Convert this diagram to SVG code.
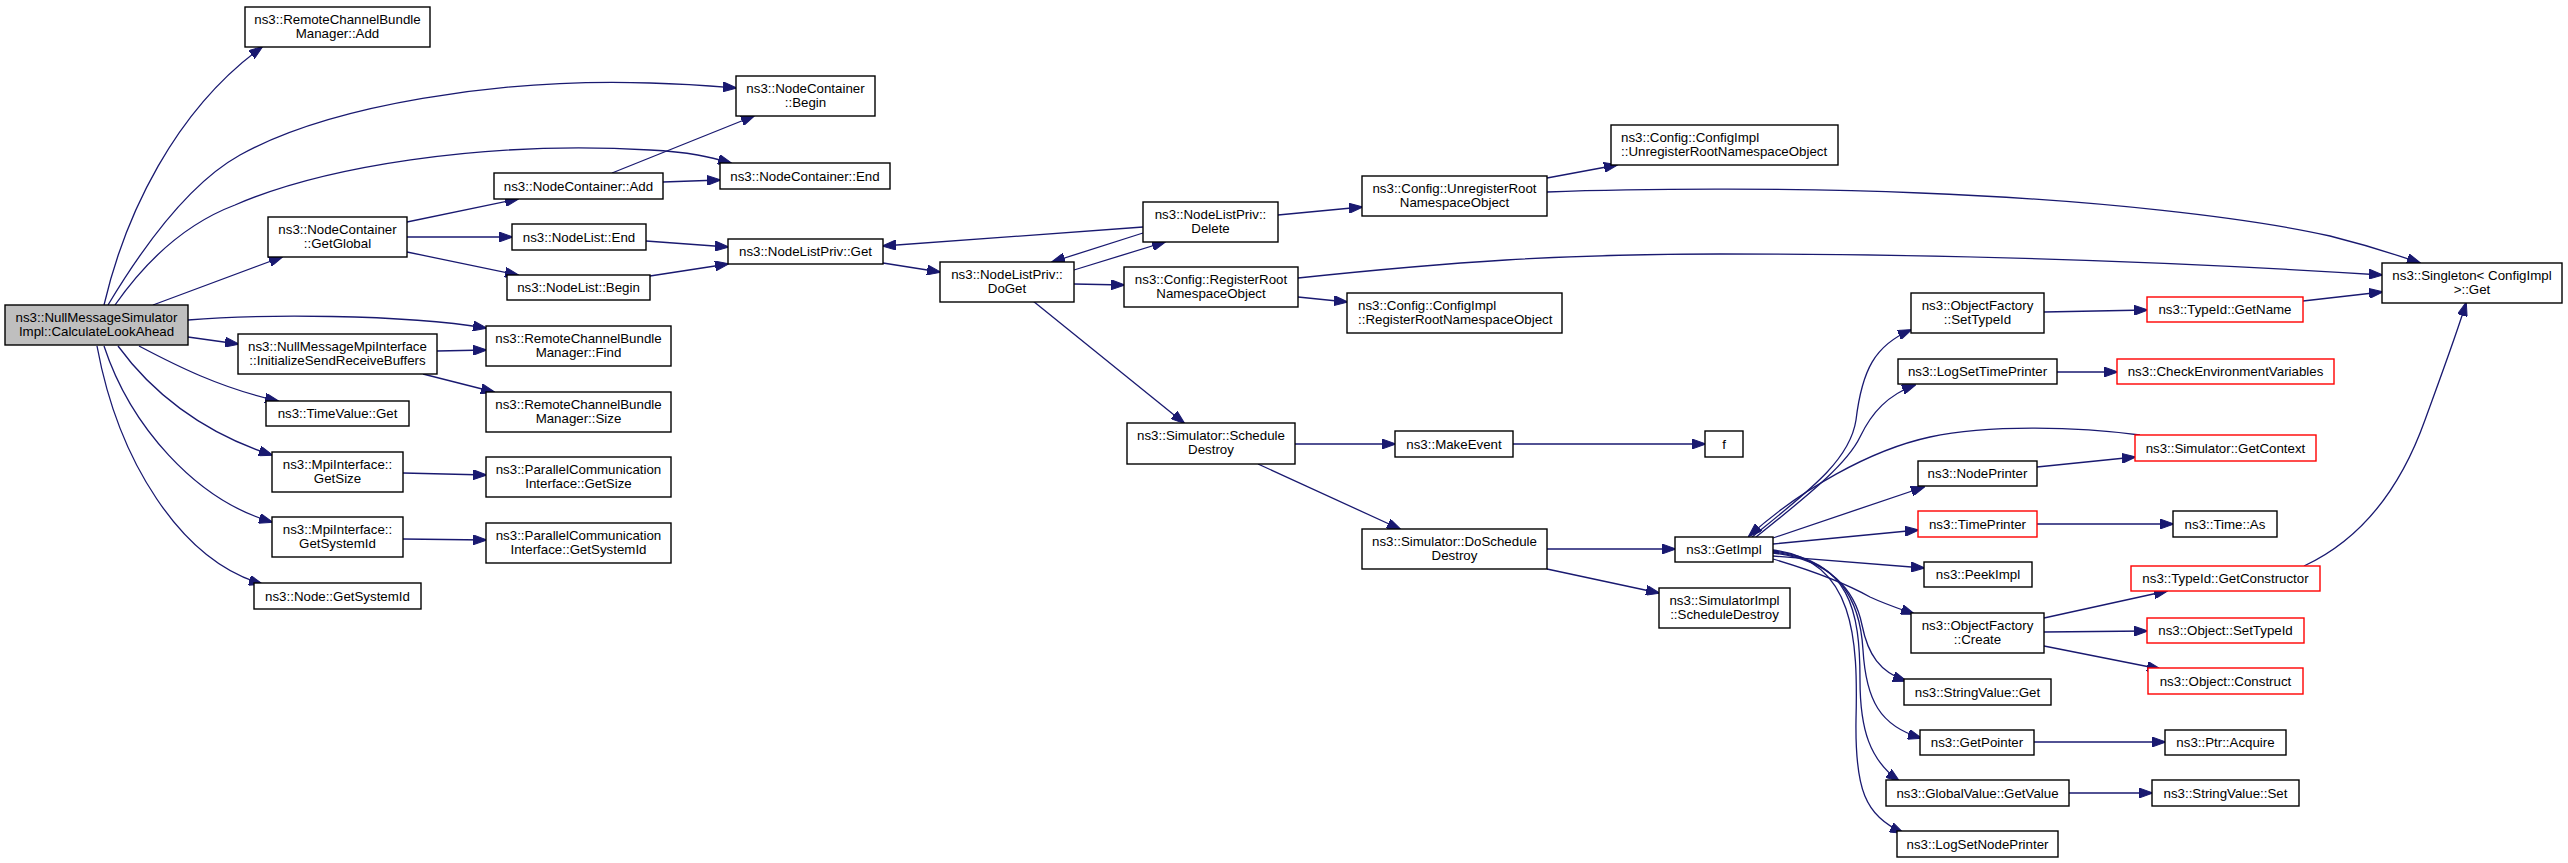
<svg xmlns="http://www.w3.org/2000/svg" width="2568" height="863" viewBox="0 0 2568 863">
<style>
.n rect{fill:#fff;stroke:#000;stroke-width:1.4}
.n.r rect{stroke:#ff0000}
.n.m rect{fill:#bfbfbf}
text{font-family:"Liberation Sans",Arial,Helvetica,sans-serif;font-size:13.3px;fill:#000;text-anchor:middle}
text.l{text-anchor:start}
#edges path{fill:none;stroke:#191970;stroke-width:1.3;marker-end:url(#a)}
</style>
<defs>
<marker id="a" markerUnits="userSpaceOnUse" markerWidth="14" markerHeight="10" viewBox="0 0 14 10" refX="13" refY="5" orient="auto"><path d="M0,0 L14,5 L0,10 z" fill="#191970" stroke="#191970" stroke-width="1"/></marker>
</defs>
<rect width="2568" height="863" fill="#fff"/>
<g id="edges">
<path d="M104,305 C125,215 175,110 262,47"/>
<path d="M108,305 C150,235 195,180 240,155 C330,105 500,78 650,83 C690,84 712,86 736,88"/>
<path d="M115,305 C150,255 190,222 235,205 C320,168 480,140 650,150 C690,152 710,157 731,163"/>
<path d="M153,305 L282,257"/>
<path d="M188,320 C260,314 400,314 486,328"/>
<path d="M188,337 L238,344"/>
<path d="M139,346 C175,365 220,388 278,401"/>
<path d="M118,346 C150,390 200,432 272,455"/>
<path d="M104,346 C130,425 195,500 272,522"/>
<path d="M97,346 C118,460 180,560 262,584"/>
<path d="M407,222 L518,199"/>
<path d="M407,237 L512,237"/>
<path d="M407,252 L518,275"/>
<path d="M612,173 L754,116"/>
<path d="M663,182 L720,180"/>
<path d="M646,241 L728,247"/>
<path d="M650,276 L728,264"/>
<path d="M437,351 L486,350"/>
<path d="M423,374 L494,392"/>
<path d="M403,473 L486,475"/>
<path d="M403,539 L486,540"/>
<path d="M883,263 L940,272"/>
<path d="M1074,270 L1165,242"/>
<path d="M1074,284 L1124,285"/>
<path d="M1033,301 L1184,423"/>
<path d="M1143,227 L883,246"/>
<path d="M1143,233 L1052,262"/>
<path d="M1278,215 L1362,207"/>
<path d="M1298,278 C1450,262 1560,254 1720,254 C1950,254 2180,262 2382,275"/>
<path d="M1298,297 L1347,302"/>
<path d="M1547,178 L1617,165"/>
<path d="M1547,192 C1650,188 1800,188 1920,193 C2100,200 2250,218 2330,236 C2370,246 2400,256 2420,263"/>
<path d="M1295,444 L1395,444"/>
<path d="M1258,464 L1400,529"/>
<path d="M1513,444 L1705,444"/>
<path d="M1547,549 L1675,549"/>
<path d="M1547,569 L1659,593"/>
<path d="M1752,537 C1810,490 1850,460 1856,420 C1862,370 1875,345 1911,330"/>
<path d="M1756,537 C1815,490 1848,462 1860,437 C1872,412 1888,395 1915,385"/>
<path d="M2140,435 C2080,427 1990,424 1930,437 C1870,450 1800,490 1749,536"/>
<path d="M1773,538 L1924,487"/>
<path d="M1773,544 L1918,530"/>
<path d="M1773,556 L1924,568"/>
<path d="M1773,559 C1810,570 1845,583 1870,597 C1885,604 1900,609 1914,614"/>
<path d="M1773,553 C1830,560 1855,590 1862,625 C1868,655 1880,672 1906,681"/>
<path d="M1773,552 C1840,560 1860,600 1863,650 C1866,700 1880,726 1921,738"/>
<path d="M1773,551 C1850,560 1860,610 1860,680 C1860,730 1870,760 1899,781"/>
<path d="M1773,550 C1855,560 1858,640 1856,720 C1855,790 1865,815 1903,833"/>
<path d="M2044,312 L2147,310"/>
<path d="M2303,301 L2382,292"/>
<path d="M2057,372 L2117,372"/>
<path d="M2037,467 L2135,457"/>
<path d="M2037,524 L2173,524"/>
<path d="M2044,618 L2167,591"/>
<path d="M2044,632 L2147,631"/>
<path d="M2044,646 L2160,669"/>
<path d="M2304,566 C2360,540 2400,490 2425,420 C2445,365 2458,330 2466,303"/>
<path d="M2034,742 L2165,742"/>
<path d="M2069,793 L2152,793"/>
</g>
<g id="n_main" class="n m"><rect x="5" y="305" width="183" height="40"/><text x="96.5" y="321.7">ns3::NullMessageSimulator</text><text x="96.5" y="335.7">Impl::CalculateLookAhead</text></g>
<g id="n_rcbm_add" class="n"><rect x="245" y="7" width="185" height="40"/><text x="337.5" y="23.7">ns3::RemoteChannelBundle</text><text x="337.5" y="37.7">Manager::Add</text></g>
<g id="n_nc_getglobal" class="n"><rect x="268" y="217" width="139" height="40"/><text x="337.5" y="233.7">ns3::NodeContainer</text><text x="337.5" y="247.7">::GetGlobal</text></g>
<g id="n_init_srb" class="n"><rect x="238" y="334" width="199" height="40"/><text x="337.5" y="350.7">ns3::NullMessageMpiInterface</text><text x="337.5" y="364.7">::InitializeSendReceiveBuffers</text></g>
<g id="n_timevalue_get" class="n"><rect x="266" y="401" width="143" height="25"/><text x="337.5" y="418">ns3::TimeValue::Get</text></g>
<g id="n_mpi_getsize" class="n"><rect x="272" y="452" width="131" height="40"/><text x="337.5" y="468.7">ns3::MpiInterface::</text><text x="337.5" y="482.7">GetSize</text></g>
<g id="n_mpi_getsystemid" class="n"><rect x="272" y="517" width="131" height="40"/><text x="337.5" y="533.7">ns3::MpiInterface::</text><text x="337.5" y="547.7">GetSystemId</text></g>
<g id="n_node_getsystemid" class="n"><rect x="254" y="583" width="167" height="26"/><text x="337.5" y="600.5">ns3::Node::GetSystemId</text></g>
<g id="n_nc_add" class="n"><rect x="494" y="173" width="169" height="26"/><text x="578.5" y="190.5">ns3::NodeContainer::Add</text></g>
<g id="n_nl_end" class="n"><rect x="512" y="224" width="134" height="26"/><text x="579" y="241.5">ns3::NodeList::End</text></g>
<g id="n_nl_begin" class="n"><rect x="507" y="275" width="143" height="25"/><text x="578.5" y="292">ns3::NodeList::Begin</text></g>
<g id="n_rcbm_find" class="n"><rect x="486" y="326" width="185" height="40"/><text x="578.5" y="342.7">ns3::RemoteChannelBundle</text><text x="578.5" y="356.7">Manager::Find</text></g>
<g id="n_rcbm_size" class="n"><rect x="486" y="392" width="185" height="40"/><text x="578.5" y="408.7">ns3::RemoteChannelBundle</text><text x="578.5" y="422.7">Manager::Size</text></g>
<g id="n_pci_getsize" class="n"><rect x="486" y="457" width="185" height="40"/><text x="578.5" y="473.7">ns3::ParallelCommunication</text><text x="578.5" y="487.7">Interface::GetSize</text></g>
<g id="n_pci_getsystemid" class="n"><rect x="486" y="523" width="185" height="40"/><text x="578.5" y="539.7">ns3::ParallelCommunication</text><text x="578.5" y="553.7">Interface::GetSystemId</text></g>
<g id="n_nc_begin" class="n"><rect x="736" y="76" width="139" height="40"/><text x="805.5" y="92.7">ns3::NodeContainer</text><text x="805.5" y="106.7">::Begin</text></g>
<g id="n_nc_end" class="n"><rect x="720" y="163" width="170" height="26"/><text x="805" y="180.5">ns3::NodeContainer::End</text></g>
<g id="n_nlp_get" class="n"><rect x="728" y="239" width="155" height="25"/><text x="805.5" y="256">ns3::NodeListPriv::Get</text></g>
<g id="n_nlp_doget" class="n"><rect x="940" y="262" width="134" height="40"/><text x="1007" y="278.7">ns3::NodeListPriv::</text><text x="1007" y="292.7">DoGet</text></g>
<g id="n_nlp_delete" class="n"><rect x="1143" y="202" width="135" height="40"/><text x="1210.5" y="218.7">ns3::NodeListPriv::</text><text x="1210.5" y="232.7">Delete</text></g>
<g id="n_cfg_registerroot" class="n"><rect x="1124" y="267" width="174" height="40"/><text x="1211" y="283.7">ns3::Config::RegisterRoot</text><text x="1211" y="297.7">NamespaceObject</text></g>
<g id="n_sim_scheduledestroy" class="n"><rect x="1127" y="423" width="168" height="41"/><text x="1211" y="439.7">ns3::Simulator::Schedule</text><text x="1211" y="453.7">Destroy</text></g>
<g id="n_cfg_unregisterroot" class="n"><rect x="1362" y="176" width="185" height="40"/><text x="1454.5" y="192.7">ns3::Config::UnregisterRoot</text><text x="1454.5" y="206.7">NamespaceObject</text></g>
<g id="n_cfgimpl_register" class="n"><rect x="1347" y="293" width="215" height="40"/><text class="l" x="1358" y="309.7">ns3::Config::ConfigImpl</text><text class="l" x="1358" y="323.7">::RegisterRootNamespaceObject</text></g>
<g id="n_makeevent" class="n"><rect x="1395" y="431" width="118" height="26"/><text x="1454" y="448.5">ns3::MakeEvent</text></g>
<g id="n_sim_doscheduledestroy" class="n"><rect x="1362" y="529" width="185" height="40"/><text x="1454.5" y="545.7">ns3::Simulator::DoSchedule</text><text x="1454.5" y="559.7">Destroy</text></g>
<g id="n_cfgimpl_unregister" class="n"><rect x="1611" y="125" width="227" height="40"/><text class="l" x="1621" y="141.7">ns3::Config::ConfigImpl</text><text class="l" x="1621" y="155.7">::UnregisterRootNamespaceObject</text></g>
<g id="n_f" class="n"><rect x="1705" y="431" width="38" height="26"/><text x="1724" y="448.5">f</text></g>
<g id="n_getimpl" class="n"><rect x="1675" y="537" width="98" height="25"/><text x="1724" y="554">ns3::GetImpl</text></g>
<g id="n_simimpl_scheduledestroy" class="n"><rect x="1659" y="588" width="131" height="40"/><text x="1724.5" y="604.7">ns3::SimulatorImpl</text><text x="1724.5" y="618.7">::ScheduleDestroy</text></g>
<g id="n_of_settypeid" class="n"><rect x="1911" y="293" width="133" height="40"/><text x="1977.5" y="309.7">ns3::ObjectFactory</text><text x="1977.5" y="323.7">::SetTypeId</text></g>
<g id="n_logsettimeprinter" class="n"><rect x="1898" y="359" width="159" height="25"/><text x="1977.5" y="376">ns3::LogSetTimePrinter</text></g>
<g id="n_nodeprinter" class="n"><rect x="1918" y="461" width="119" height="25"/><text x="1977.5" y="478">ns3::NodePrinter</text></g>
<g id="n_timeprinter" class="n r"><rect x="1918" y="511" width="119" height="26"/><text x="1977.5" y="528.5">ns3::TimePrinter</text></g>
<g id="n_peekimpl" class="n"><rect x="1924" y="562" width="108" height="25"/><text x="1978" y="579">ns3::PeekImpl</text></g>
<g id="n_of_create" class="n"><rect x="1911" y="613" width="133" height="40"/><text x="1977.5" y="629.7">ns3::ObjectFactory</text><text x="1977.5" y="643.7">::Create</text></g>
<g id="n_stringvalue_get" class="n"><rect x="1904" y="679" width="147" height="26"/><text x="1977.5" y="696.5">ns3::StringValue::Get</text></g>
<g id="n_getpointer" class="n"><rect x="1920" y="730" width="114" height="25"/><text x="1977" y="747">ns3::GetPointer</text></g>
<g id="n_globalvalue_getvalue" class="n"><rect x="1886" y="780" width="183" height="26"/><text x="1977.5" y="797.5">ns3::GlobalValue::GetValue</text></g>
<g id="n_logsetnodeprinter" class="n"><rect x="1897" y="831" width="161" height="26"/><text x="1977.5" y="848.5">ns3::LogSetNodePrinter</text></g>
<g id="n_typeid_getname" class="n r"><rect x="2147" y="297" width="156" height="25"/><text x="2225" y="314">ns3::TypeId::GetName</text></g>
<g id="n_checkenv" class="n r"><rect x="2117" y="359" width="217" height="25"/><text x="2225.5" y="376">ns3::CheckEnvironmentVariables</text></g>
<g id="n_sim_getcontext" class="n r"><rect x="2135" y="435" width="181" height="26"/><text x="2225.5" y="452.5">ns3::Simulator::GetContext</text></g>
<g id="n_time_as" class="n"><rect x="2173" y="511" width="104" height="26"/><text x="2225" y="528.5">ns3::Time::As</text></g>
<g id="n_typeid_getconstructor" class="n r"><rect x="2131" y="566" width="189" height="25"/><text x="2225.5" y="583">ns3::TypeId::GetConstructor</text></g>
<g id="n_object_settypeid" class="n r"><rect x="2147" y="618" width="157" height="25"/><text x="2225.5" y="635">ns3::Object::SetTypeId</text></g>
<g id="n_object_construct" class="n r"><rect x="2148" y="668" width="155" height="26"/><text x="2225.5" y="685.5">ns3::Object::Construct</text></g>
<g id="n_ptr_acquire" class="n"><rect x="2165" y="730" width="121" height="25"/><text x="2225.5" y="747">ns3::Ptr::Acquire</text></g>
<g id="n_stringvalue_set" class="n"><rect x="2152" y="780" width="147" height="26"/><text x="2225.5" y="797.5">ns3::StringValue::Set</text></g>
<g id="n_singleton_get" class="n"><rect x="2382" y="263" width="180" height="40"/><text x="2472" y="279.7">ns3::Singleton&lt; ConfigImpl</text><text x="2472" y="293.7">&gt;::Get</text></g>
</svg>
